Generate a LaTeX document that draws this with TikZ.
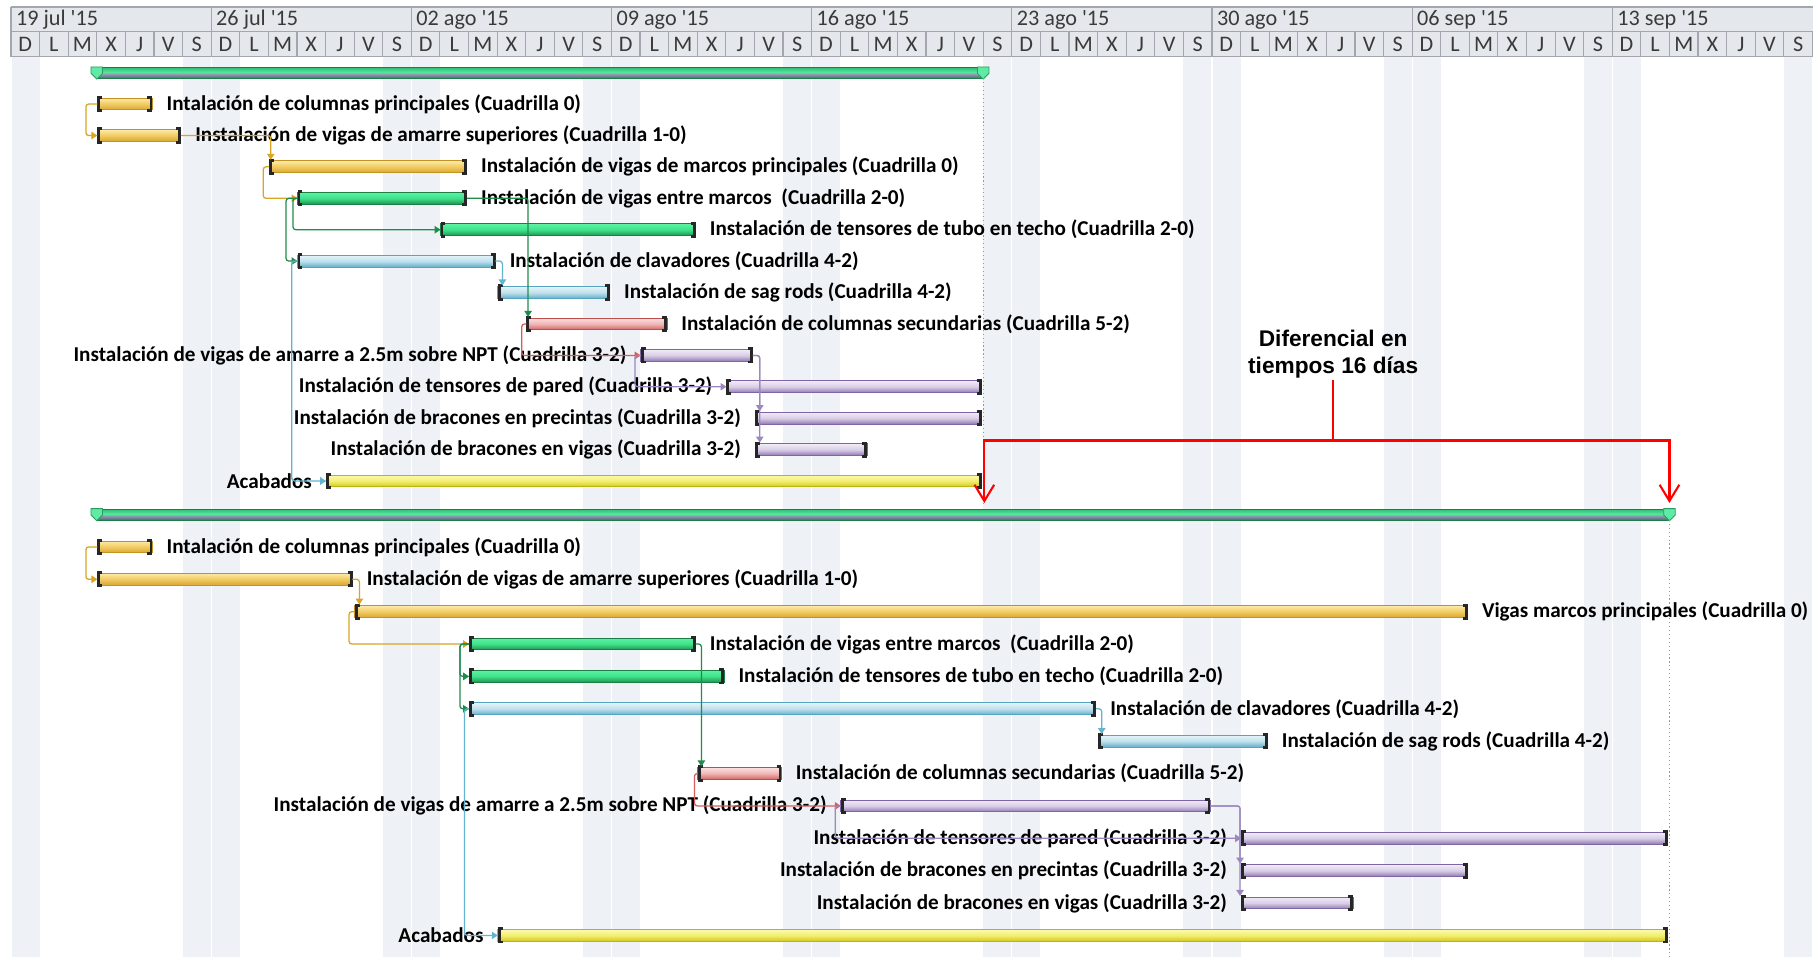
\documentclass[tikz,border=0pt]{standalone}
\usepackage{fontspec}
\setmainfont{Carlito}
\newfontfamily\hdrfont[Ligatures=TeXOff]{Carlito}
\newfontfamily\annfont{Liberation Sans}
\usetikzlibrary{arrows.meta,calc}

% palette
\definecolor{wkend}{HTML}{EEF1F6}
\definecolor{hdrbg}{HTML}{E4E7EB}
\definecolor{hdrln}{HTML}{A3A7AD}
\definecolor{hdrtx}{HTML}{3A3A3A}
\definecolor{capc}{HTML}{262626}
\definecolor{goldT}{HTML}{FDE9A8}\definecolor{goldM}{HTML}{F1CB60}\definecolor{goldB}{HTML}{D8A535}\definecolor{goldE}{HTML}{C39220}\definecolor{goldC}{HTML}{D9A522}
\definecolor{grnT}{HTML}{5AF3A3}\definecolor{grnM}{HTML}{40E08A}\definecolor{grnB}{HTML}{1C9450}\definecolor{grnE}{HTML}{1B7F45}\definecolor{grnC}{HTML}{1F8C4C}
\definecolor{bluT}{HTML}{E4F3F8}\definecolor{bluM}{HTML}{BFE1ED}\definecolor{bluB}{HTML}{64AEC8}\definecolor{bluE}{HTML}{56A4C0}\definecolor{bluC}{HTML}{62B4CF}
\definecolor{redT}{HTML}{FBE0E0}\definecolor{redM}{HTML}{F0B5B4}\definecolor{redB}{HTML}{CF6563}\definecolor{redE}{HTML}{BE4E4B}\definecolor{redC}{HTML}{D35E5E}
\definecolor{purT}{HTML}{F1ECF7}\definecolor{purM}{HTML}{D9CDE7}\definecolor{purB}{HTML}{8F79B1}\definecolor{purE}{HTML}{7D66A3}\definecolor{purC}{HTML}{9C87BE}
\definecolor{yelT}{HTML}{FCFAAE}\definecolor{yelM}{HTML}{F3EE70}\definecolor{yelB}{HTML}{CFC81A}\definecolor{yelE}{HTML}{BAB414}
\definecolor{sumGT}{HTML}{2FBF72}\definecolor{sumGB}{HTML}{5EF2A6}\definecolor{sumST}{HTML}{97A6BB}\definecolor{sumSB}{HTML}{56667E}
\definecolor{tipF}{HTML}{5FEBA6}\definecolor{tipE}{HTML}{2A9C60}
\definecolor{alert}{HTML}{FF0000}

% day grid: origin and day width
\def\xo{9.5}
\def\dw{24.73}

\tikzset{
  bar/.style={rectangle, inner sep=0pt, outer sep=0pt, minimum height=5.1pt, line width=0.4pt},
  goldbar/.style={bar, draw=goldE, top color=goldT, bottom color=goldB, middle color=goldM},
  grnbar/.style={bar, draw=grnE, top color=grnT, bottom color=grnB, middle color=grnM},
  blubar/.style={bar, draw=bluE, top color=bluT, bottom color=bluB, middle color=bluM},
  redbar/.style={bar, draw=redE, top color=redT, bottom color=redB, middle color=redM},
  purbar/.style={bar, draw=purE, top color=purT, bottom color=purB, middle color=purM},
  yelbar/.style={bar, draw=yelE, top color=yelT, bottom color=yelB, middle color=yelM},
  sumbar/.style={rectangle, inner sep=0pt, outer sep=0pt, minimum height=4.6pt},
  capline/.style={draw=capc, line width=1.25pt},
  lbl/.style={font=\fontsize{9.15}{10}\selectfont\bfseries, inner sep=0pt, text=black},
  link/.style={draw=#1, line width=0.55pt, rounded corners=1.2pt, -{Triangle[length=2.6pt,width=3.2pt]}},
  dotline/.style={draw=gray!80, line width=0.4pt, dash pattern=on 0.5pt off 1.2pt},
  alertln/.style={draw=alert, line width=0.9pt},
  alertarr/.style={draw=alert, line width=0.9pt, -{Straight Barb[length=7pt,width=8.5pt,line width=0.9pt]}},
}

% one task bar with its end brackets: name, style, start day, end day, row y
\newcommand\gtask[5]{%
  \pgfmathsetmacro\xa{\xo+\dw*#3+0.6}%
  \pgfmathsetmacro\bw{0.5*(\dw*(#4-#3)-2.0)}%
  \node[#2, minimum width=\bw pt, anchor=west] (#1) at (\xa,#5) {};
  \draw[capline] ($(#1.north west)+(4.2,-0.6)$) -- ++(-3,0) -- ++(0,11.4) -- ++(3,0);
  \draw[capline] ($(#1.north east)+(-4.2,-0.6)$) -- ++(3,0) -- ++(0,11.4) -- ++(-3,0);
}

% summary bar with end markers: name, start day, end day, row y
\newcommand\gsum[4]{%
  \pgfmathsetmacro\xa{\xo+\dw*#2}%
  \pgfmathsetmacro\bw{0.5*\dw*(#3-#2)}%
  \node[sumbar, minimum width=\bw pt, anchor=west] (#1) at (\xa,#4) {};
  \fill[top color=sumGT, bottom color=sumGB] (#1.north west) rectangle ($(#1.east)+(0,0.5)$);
  \fill[top color=sumST, bottom color=sumSB] ($(#1.west)+(0,0.5)$) rectangle (#1.south east);
  \draw[grnE, line width=0.3pt] (#1.north west) rectangle (#1.south east);
  \foreach \e in {west,east}{
    \draw[fill=tipF, draw=tipE, line width=0.35pt] ($(#1.north \e)+(-5,-0.5)$) -- ++(10,0) -- ++(0,5.5) -- ++(-5,5) -- ++(-5,-5) -- cycle;
  }
}

\begin{document}
\begin{tikzpicture}[x=0.5pt, y=-0.5pt]
\useasboundingbox (0,0) rectangle (1568,828);
\fill[white] (0,0) rectangle (1568,828);

% weekend columns
\foreach \w in {0,...,8}{
  \pgfmathsetmacro\su{\xo+\dw*7*\w}
  \pgfmathsetmacro\sa{\xo+\dw*(7*\w+6)}
  \fill[wkend] (\su,49) rectangle (\su+\dw,828);
  \fill[wkend] (\sa,49) rectangle (\sa+\dw,828);
  \draw[white, line width=0.5pt] (\su,49) -- (\su,828);
}

% timescale header
\fill[hdrbg] (\xo,6) rectangle (1568,49);
\draw[hdrln, line width=0.5pt] (\xo,6) -- (1568,6) (\xo,27.5) -- (1568,27.5) (\xo,49) -- (1568,49);
\foreach \d in {0,...,63}{
  \draw[hdrln, line width=0.5pt] (\xo+\dw*\d,27.5) -- (\xo+\dw*\d,49);
}
\foreach \w/\wk in {0/19 jul,1/26 jul,2/02 ago,3/09 ago,4/16 ago,5/23 ago,6/30 ago,7/06 sep,8/13 sep}{
  \draw[hdrln, line width=0.5pt] (\xo+\dw*7*\w,6) -- (\xo+\dw*7*\w,27.5);
  \node[anchor=west, inner sep=0pt, text=hdrtx, font=\hdrfont\fontsize{9.6}{11}\selectfont]
    (wk\w) at (\xo+\dw*7*\w+4,17) {\wk\ '15};
  \foreach \l [count=\i from 0] in {D,L,M,X,J,V,S}{
    \node[inner sep=0pt, text=hdrtx, font=\hdrfont\fontsize{9.6}{11}\selectfont]
      (dl\w\i) at (\xo+\dw*7*\w+\dw*\i+0.5*\dw,38.5) {\l};
  }
}

% ---------------- first schedule ----------------
\gsum{s1}{3}{34}{63}
\draw[dotline] (s1.south east) -- ($(s1.east)+(0,374)$);

\gtask{t1}{goldbar}{3}{5}{90}
\gtask{t2}{goldbar}{3}{6}{117.2}
\gtask{t3}{goldbar}{9}{16}{144.3}
\gtask{t4}{grnbar}{10}{16}{171.5}
\gtask{t5}{grnbar}{15}{24}{198.7}
\gtask{t6}{blubar}{10}{17}{225.8}
\gtask{t7}{blubar}{17}{21}{253}
\gtask{t8}{redbar}{18}{23}{280.2}
\gtask{t9}{purbar}{22}{26}{307.4}
\gtask{t10}{purbar}{25}{34}{334.5}
\gtask{t11}{purbar}{26}{34}{361.7}
\gtask{t12}{purbar}{26}{30}{388.9}
\gtask{t13}{yelbar}{11}{34}{416}

\node[lbl, anchor=west] (t1l) at ([xshift=6pt]t1.east) {Intalación de columnas principales (Cuadrilla 0)};
\node[lbl, anchor=west] (t2l) at ([xshift=6pt]t2.east) {Instalación de vigas de amarre superiores (Cuadrilla 1-0)};
\node[lbl, anchor=west] (t3l) at ([xshift=6pt]t3.east) {Instalación de vigas de marcos principales (Cuadrilla 0)};
\node[lbl, anchor=west] (t4l) at ([xshift=6pt]t4.east) {Instalación de vigas entre marcos~ (Cuadrilla 2-0)};
\node[lbl, anchor=west] (t5l) at ([xshift=6pt]t5.east) {Instalación de tensores de tubo en techo (Cuadrilla 2-0)};
\node[lbl, anchor=west] (t6l) at ([xshift=6pt]t6.east) {Instalación de clavadores (Cuadrilla 4-2)};
\node[lbl, anchor=west] (t7l) at ([xshift=6pt]t7.east) {Instalación de sag rods (Cuadrilla 4-2)};
\node[lbl, anchor=west] (t8l) at ([xshift=6pt]t8.east) {Instalación de columnas secundarias (Cuadrilla 5-2)};
\node[lbl, anchor=east] (t9l) at ([xshift=-6pt]t9.west) {Instalación de vigas de amarre a 2.5m sobre NPT (Cuadrilla 3-2)};
\node[lbl, anchor=east] (t10l) at ([xshift=-6pt]t10.west) {Instalación de tensores de pared (Cuadrilla 3-2)};
\node[lbl, anchor=east] (t11l) at ([xshift=-6pt]t11.west) {Instalación de bracones en precintas (Cuadrilla 3-2)};
\node[lbl, anchor=east] (t12l) at ([xshift=-6pt]t12.west) {Instalación de bracones en vigas (Cuadrilla 3-2)};
\node[lbl, anchor=east] (t13l) at ([xshift=-6pt]t13.west) {Acabados};

\draw[link=goldC] (t1.west) -- ++(-10,0) |- (t2.west);
\draw[link=goldC] (t2.east) -| ($(t3.north west)+(1.5,-1)$);
\draw[link=goldC] (t3.west) -- ++(-5,0) |- (t4.west);
\draw[link=grnC] (t4.west) -- ++(-4,0) |- (t5.west);
\draw[link=grnC] (t4.west) -- ++(-10,0) |- (t6.west);
\draw[link=grnC] (t4.east) -| ($(t8.north west)+(1.5,-1)$);
\draw[link=bluC] (t6.west) -- ++(-5,0) |- (t13.west);
\draw[link=bluC] (t6.east) -| ($(t7.north west)+(4,-1)$);
\draw[link=redC] (t8.west) -- ++(-4,0) |- (t9.west);
\draw[link=purC] (t9.west) -- ++(-5,0) |- (t10.west);
\draw[link=purC] (t9.east) -| ($(t11.north west)+(4,-1)$);
\draw[link=purC] (t9.east) -| ($(t12.north west)+(4,-1)$);

% ---------------- second schedule ----------------
\gsum{s2}{3}{58}{445}
\draw[dotline] (s2.south east) -- ($(s2.east)+(0,383)$);

\gtask{c1}{goldbar}{3}{5}{473}
\gtask{c2}{goldbar}{3}{12}{501}
\gtask{c3}{goldbar}{12}{51}{529}
\gtask{c4}{grnbar}{16}{24}{557}
\gtask{c5}{grnbar}{16}{25}{585}
\gtask{c6}{blubar}{16}{38}{613}
\gtask{c7}{blubar}{38}{44}{641}
\gtask{c8}{redbar}{24}{27}{669}
\gtask{c9}{purbar}{29}{42}{697}
\gtask{c10}{purbar}{43}{58}{725}
\gtask{c11}{purbar}{43}{51}{753}
\gtask{c12}{purbar}{43}{47}{781}
\gtask{c13}{yelbar}{17}{58}{809}

\node[lbl, anchor=west] (c1l) at ([xshift=6pt]c1.east) {Intalación de columnas principales (Cuadrilla 0)};
\node[lbl, anchor=west] (c2l) at ([xshift=6pt]c2.east) {Instalación de vigas de amarre superiores (Cuadrilla 1-0)};
\node[lbl, anchor=west] (c3l) at ([xshift=6pt]c3.east) {Vigas marcos principales (Cuadrilla 0)};
\node[lbl, anchor=west] (c4l) at ([xshift=6pt]c4.east) {Instalación de vigas entre marcos~ (Cuadrilla 2-0)};
\node[lbl, anchor=west] (c5l) at ([xshift=6pt]c5.east) {Instalación de tensores de tubo en techo (Cuadrilla 2-0)};
\node[lbl, anchor=west] (c6l) at ([xshift=6pt]c6.east) {Instalación de clavadores (Cuadrilla 4-2)};
\node[lbl, anchor=west] (c7l) at ([xshift=6pt]c7.east) {Instalación de sag rods (Cuadrilla 4-2)};
\node[lbl, anchor=west] (c8l) at ([xshift=6pt]c8.east) {Instalación de columnas secundarias (Cuadrilla 5-2)};
\node[lbl, anchor=east] (c9l) at ([xshift=-6pt]c9.west) {Instalación de vigas de amarre a 2.5m sobre NPT (Cuadrilla 3-2)};
\node[lbl, anchor=east] (c10l) at ([xshift=-6pt]c10.west) {Instalación de tensores de pared (Cuadrilla 3-2)};
\node[lbl, anchor=east] (c11l) at ([xshift=-6pt]c11.west) {Instalación de bracones en precintas (Cuadrilla 3-2)};
\node[lbl, anchor=east] (c12l) at ([xshift=-6pt]c12.west) {Instalación de bracones en vigas (Cuadrilla 3-2)};
\node[lbl, anchor=east] (c13l) at ([xshift=-6pt]c13.west) {Acabados};

\draw[link=goldC] (c1.west) -- ++(-10,0) |- (c2.west);
\draw[link=goldC] (c2.east) -| ($(c3.north west)+(4,-1)$);
\draw[link=goldC] (c3.west) -- ++(-5,0) |- (c4.west);
\draw[link=grnC] (c4.west) -- ++(-8,0) |- (c5.west);
\draw[link=grnC] (c4.west) -- ++(-8,0) |- (c6.west);
\draw[link=grnC] (c4.east) -| ($(c8.north west)+(3,-1)$);
\draw[link=bluC] (c6.west) -- ++(-4,0) |- (c13.west);
\draw[link=bluC] (c6.east) -| ($(c7.north west)+(3,-1)$);
\draw[link=redC] (c8.west) -- ++(-3,0) |- (c9.west);
\draw[link=purC] (c9.west) -- ++(-5,0) |- (c10.west);
\draw[link=purC] (c9.east) -| ($(c11.north west)+(-1,-1)$);
\draw[link=purC] (c9.east) -| ($(c12.north west)+(-1,-1)$);

% ---------------- difference between the two finish dates ----------------
\node[font=\annfont\bfseries\fontsize{9.8}{11.5}\selectfont, align=center, inner sep=0.5pt] (dif) at (1153,306.5) {Diferencial en\\tiempos 16 días};
\coordinate (hj) at (1153,381);
\coordinate (tipA) at ($(s1.east)+(1,372)$);
\coordinate (tipB) at ($(s2.east)+(0,-10)$);
\draw[alertln] (dif.south) -- (hj);
\draw[alertarr] (hj) -| (tipA);
\draw[alertarr] (hj) -| (tipB);
\end{tikzpicture}
\end{document}
